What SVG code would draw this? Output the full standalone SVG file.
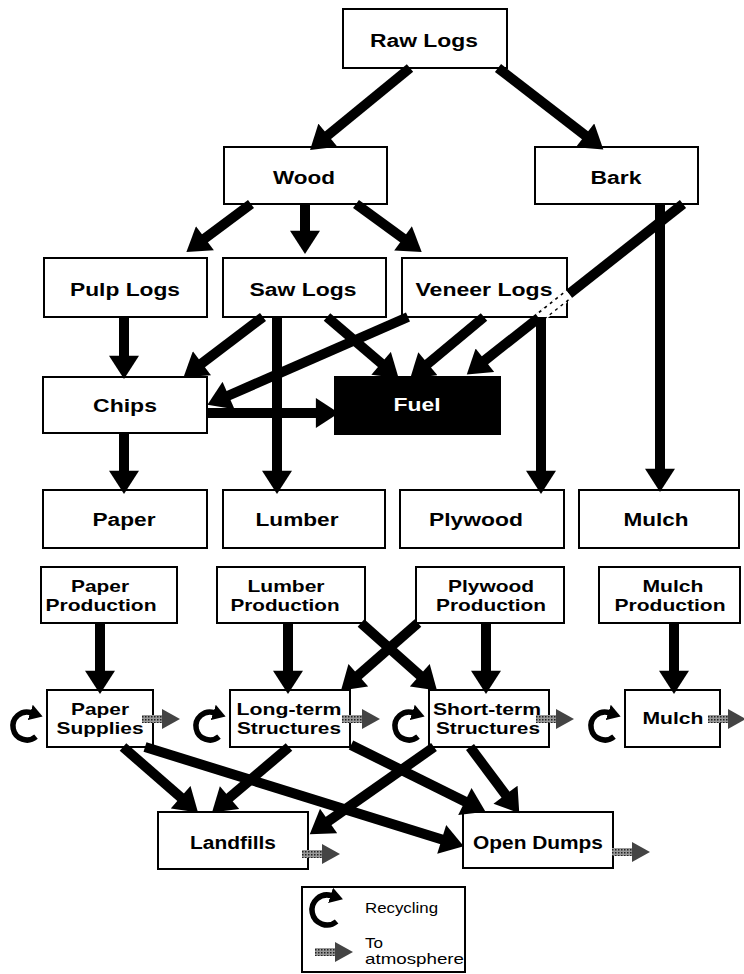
<svg xmlns="http://www.w3.org/2000/svg" xmlns:xlink="http://www.w3.org/1999/xlink" width="744" height="974" viewBox="0 0 744 974">
<style>
.box{fill:#fff;stroke:#000;stroke-width:2}
.dark{fill:#000;stroke:#000;stroke-width:2}
.t{font-family:"Liberation Sans",Arial,sans-serif;font-weight:bold;font-size:18px;fill:#000;text-anchor:middle}
.t2{font-family:"Liberation Sans",Arial,sans-serif;font-weight:bold;font-size:17px;fill:#000;text-anchor:middle}
.lg{font-family:"Liberation Sans",Arial,sans-serif;font-size:15px;fill:#000}
.w{fill:#fff}
.c{stroke:#000;stroke-width:10;fill:none;marker-end:url(#ah)}
.rc{stroke:#000;stroke-width:5.5;fill:none;marker-end:url(#rh)}
</style>
<defs>
<marker id="ah" markerUnits="userSpaceOnUse" markerWidth="24" markerHeight="30" refX="1" refY="13" orient="auto" viewBox="0 0 20 26">
<path d="M0,0 L20,13 L0,26 z" fill="#000"/>
</marker>
<marker id="rh" markerUnits="userSpaceOnUse" markerWidth="13" markerHeight="17" refX="1" refY="7.5" orient="auto" viewBox="0 0 12 15">
<path d="M0,0 L12,7.5 L0,15 z" fill="#000"/>
</marker>
<pattern id="hatch" width="3" height="3" patternUnits="userSpaceOnUse">
<rect width="3" height="3" fill="#999"/>
<rect width="1.5" height="1.5" fill="#222"/>
</pattern>
<symbol id="atm" overflow="visible">
<rect x="0" y="-4" width="22" height="8" fill="url(#hatch)"/>
<path d="M20,-10 L38,0 L20,10 z" fill="#444"/>
</symbol>
</defs>

<g id="raw-logs"><rect class="box" x="343" y="9" width="164" height="59"/><text class="t" x="424" y="47" textLength="108" lengthAdjust="spacingAndGlyphs">Raw Logs</text></g>
<g id="wood"><rect class="box" x="224" y="147" width="163" height="57"/><text class="t" x="304" y="184" textLength="62" lengthAdjust="spacingAndGlyphs">Wood</text></g>
<g id="bark"><rect class="box" x="535" y="147" width="163" height="57"/><text class="t" x="616" y="184" textLength="51" lengthAdjust="spacingAndGlyphs">Bark</text></g>
<g id="pulp-logs"><rect class="box" x="44" y="258" width="163" height="59"/><text class="t" x="125" y="296" textLength="110" lengthAdjust="spacingAndGlyphs">Pulp Logs</text></g>
<g id="saw-logs"><rect class="box" x="223" y="258" width="163" height="59"/><text class="t" x="303" y="296" textLength="107" lengthAdjust="spacingAndGlyphs">Saw Logs</text></g>
<g id="veneer-logs"><rect class="box" x="402" y="258" width="165" height="59"/><text class="t" x="484" y="296" textLength="137" lengthAdjust="spacingAndGlyphs">Veneer Logs</text></g>
<g id="chips"><rect class="box" x="43" y="377" width="164" height="56"/><text class="t" x="125" y="412" textLength="64" lengthAdjust="spacingAndGlyphs">Chips</text></g>
<g id="fuel"><rect class="dark" x="335" y="377" width="165" height="57"/><text class="t w" x="417" y="411" textLength="47" lengthAdjust="spacingAndGlyphs">Fuel</text></g>
<g id="paper"><rect class="box" x="43" y="490" width="164" height="58"/><text class="t" x="124" y="526" textLength="63" lengthAdjust="spacingAndGlyphs">Paper</text></g>
<g id="lumber"><rect class="box" x="223" y="490" width="162" height="58"/><text class="t" x="297" y="526" textLength="83" lengthAdjust="spacingAndGlyphs">Lumber</text></g>
<g id="plywood"><rect class="box" x="400" y="490" width="164" height="58"/><text class="t" x="476" y="526" textLength="94" lengthAdjust="spacingAndGlyphs">Plywood</text></g>
<g id="mulch"><rect class="box" x="579" y="490" width="160" height="58"/><text class="t" x="656" y="526" textLength="65" lengthAdjust="spacingAndGlyphs">Mulch</text></g>

<g id="paper-production"><rect class="box" x="41" y="567" width="136" height="56"/><text class="t2" x="100" y="592" textLength="58" lengthAdjust="spacingAndGlyphs">Paper</text><text class="t2" x="101" y="611" textLength="111" lengthAdjust="spacingAndGlyphs">Production</text></g>
<g id="lumber-production"><rect class="box" x="217" y="567" width="148" height="56"/><text class="t2" x="286" y="592" textLength="77" lengthAdjust="spacingAndGlyphs">Lumber</text><text class="t2" x="285" y="611" textLength="109" lengthAdjust="spacingAndGlyphs">Production</text></g>
<g id="plywood-production"><rect class="box" x="416" y="567" width="148" height="56"/><text class="t2" x="491" y="592" textLength="86" lengthAdjust="spacingAndGlyphs">Plywood</text><text class="t2" x="491" y="611" textLength="110" lengthAdjust="spacingAndGlyphs">Production</text></g>
<g id="mulch-production"><rect class="box" x="599" y="567" width="141" height="56"/><text class="t2" x="673" y="592" textLength="61" lengthAdjust="spacingAndGlyphs">Mulch</text><text class="t2" x="670" y="611" textLength="111" lengthAdjust="spacingAndGlyphs">Production</text></g>

<g id="paper-supplies"><rect class="box" x="47" y="690" width="106" height="57"/><text class="t2" x="100" y="715" textLength="58" lengthAdjust="spacingAndGlyphs">Paper</text><text class="t2" x="100" y="734" textLength="87" lengthAdjust="spacingAndGlyphs">Supplies</text></g>
<g id="long-term"><rect class="box" x="230" y="690" width="120" height="57"/><text class="t2" x="289" y="715" textLength="105" lengthAdjust="spacingAndGlyphs">Long-term</text><text class="t2" x="289" y="734" textLength="104" lengthAdjust="spacingAndGlyphs">Structures</text></g>
<g id="short-term"><rect class="box" x="429" y="690" width="120" height="57"/><text class="t2" x="487" y="715" textLength="108" lengthAdjust="spacingAndGlyphs">Short-term</text><text class="t2" x="488" y="734" textLength="104" lengthAdjust="spacingAndGlyphs">Structures</text></g>
<g id="mulch-use"><rect class="box" x="625" y="690" width="95" height="57"/><text class="t2" x="673" y="724" textLength="61" lengthAdjust="spacingAndGlyphs">Mulch</text></g>

<g id="landfills"><rect class="box" x="158" y="812" width="150" height="57"/><text class="t" x="233" y="849" textLength="86" lengthAdjust="spacingAndGlyphs">Landfills</text></g>
<g id="open-dumps"><rect class="box" x="463" y="812" width="150" height="56"/><text class="t" x="538" y="849" textLength="130" lengthAdjust="spacingAndGlyphs">Open Dumps</text></g>

<g id="connectors">
<line class="c" x1="410" y1="68" x2="327" y2="136"/>
<line class="c" x1="498" y1="68" x2="586" y2="136"/>
<line class="c" x1="251" y1="204" x2="204" y2="239"/>
<line class="c" x1="305" y1="204" x2="305" y2="232"/>
<line class="c" x1="356" y1="204" x2="404" y2="239"/>
<line class="c" x1="660" y1="204" x2="660" y2="470"/>
<line class="c" x1="683" y1="204" x2="484" y2="361"/>
<line x1="569" y1="294" x2="539" y2="318" stroke="#fff" stroke-width="7"/>
<line x1="569" y1="294" x2="539" y2="318" stroke="#fff" stroke-width="11" stroke-dasharray="4 3"/>
<line class="c" x1="124" y1="317" x2="124" y2="357"/>
<line class="c" x1="263" y1="317" x2="201" y2="364"/>
<line class="c" x1="277" y1="317" x2="277" y2="472"/>
<line class="c" x1="327" y1="317" x2="382" y2="364"/>
<line class="c" x1="408" y1="317" x2="227.5" y2="396"/>
<line class="c" x1="484" y1="317" x2="427" y2="364.5"/>
<line class="c" x1="541" y1="317" x2="541" y2="472"/>
<line class="c" x1="207" y1="413" x2="317" y2="413"/>
<line class="c" x1="124" y1="433" x2="124" y2="472"/>
<line class="c" x1="100" y1="623" x2="100" y2="672"/>
<line class="c" x1="288" y1="623" x2="288" y2="672"/>
<line class="c" x1="361" y1="623" x2="420.6" y2="676"/>
<line class="c" x1="418" y1="623" x2="357.5" y2="676"/>
<line class="c" x1="486" y1="623" x2="486" y2="672"/>
<line class="c" x1="674" y1="623" x2="674" y2="672"/>
<line class="c" x1="123" y1="747" x2="181.5" y2="798"/>
<line class="c" x1="145" y1="747" x2="442.8" y2="839.7"/>
<line class="c" x1="289" y1="747" x2="228.7" y2="798.3"/>
<line class="c" x1="351" y1="745" x2="465.9" y2="802"/>
<line class="c" x1="434" y1="747" x2="327.7" y2="821.7"/>
<line class="c" x1="470" y1="747" x2="506.2" y2="795.6"/>
</g>

<g id="recycling">
<path class="rc" d="M36,736.7 A14,14 0 1 1 31.3,712.7"/>
<path class="rc" d="M219,736.7 A14,14 0 1 1 214.3,712.7"/>
<path class="rc" d="M418,736.7 A14,14 0 1 1 413.3,712.7"/>
<path class="rc" d="M614,736.7 A14,14 0 1 1 609.3,712.7"/>
</g>

<g id="to-atmosphere">
<use href="#atm" x="142" y="719"/>
<use href="#atm" x="342" y="719"/>
<use href="#atm" x="536" y="719"/>
<use href="#atm" x="708" y="719"/>
<use href="#atm" x="302" y="854"/>
<use href="#atm" x="612" y="852"/>
</g>

<g id="legend">
<rect class="box" x="302" y="887" width="163" height="85"/>
<path class="rc" d="M336.6,921.5 A15,15 0 1 1 331.6,895.7"/>
<text class="lg" x="365" y="913" textLength="73" lengthAdjust="spacingAndGlyphs">Recycling</text>
<use href="#atm" x="315" y="952"/>
<text class="lg" x="365" y="948" textLength="18" lengthAdjust="spacingAndGlyphs">To</text>
<text class="lg" x="365" y="964" textLength="99" lengthAdjust="spacingAndGlyphs">atmosphere</text>
</g>
</svg>
